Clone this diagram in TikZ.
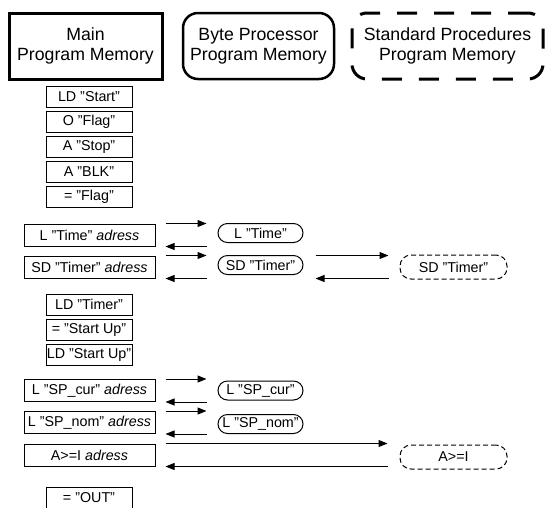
\documentclass[tikz,border=0pt]{standalone}
\usepackage{fontspec}
\setmainfont{Liberation Sans}[Ligatures=ResetAll]
\usetikzlibrary{arrows.meta}

\begin{document}
\begin{tikzpicture}[x=1pt, y=-1pt, font=\fontsize{14.3pt}{17pt}\selectfont,
	memhead/.style={draw, minimum width=#1, minimum height=66pt, inner sep=0pt, align=center, font=\fontsize{17.7pt}{20pt}\selectfont},
	instr/.style={draw, line width=1pt, minimum width=86pt, minimum height=21pt, inner sep=0pt},
	adr/.style={draw, line width=1pt, minimum width=131pt, minimum height=22pt, inner sep=0pt},
	byteop/.style={draw, line width=1pt, rounded corners=9.5pt, minimum width=85pt, minimum height=19pt, inner sep=0pt},
	procop/.style={draw, line width=1pt, dash pattern=on 5pt off 3pt, rounded corners=11pt, minimum width=107pt, minimum height=24pt, inner sep=0pt},
	flow/.style={line width=1pt, -{Triangle[length=9pt,width=7pt]}}]
	\useasboundingbox (0,0) rectangle (546,507);
	% memory headers
	\node[memhead=153pt, line width=3pt] (main) at (85.5,46) {Main\\Program Memory};
	\node[memhead=151pt, line width=2.5pt, rounded corners=15pt] (byte) at (258.5,46) {Byte Processor\\Program Memory};
	\node[memhead=191pt, line width=3pt, rounded corners=15pt, dash pattern=on 20pt off 17pt] (std) at (447.5,46) {Standard Procedures\\Program Memory};
	% main program
	\node[instr] (ld1) at (89,96.5) {LD "Start"};
	\node[instr] (o1) at (89,121.5) {O "Flag"};
	\node[instr] (a1) at (89,146.5) {A "Stop"};
	\node[instr] (a2) at (89,171.5) {A "BLK"};
	\node[instr] (eq1) at (89,196.5) {= "Flag"};
	\node[adr] (lt) at (89.5,235) {L "Time" \textit{adress}};
	\node[adr] (sd) at (89.5,267) {SD "Timer" \textit{adress}};
	\node[instr] (ld2) at (89,304.5) {LD "Timer"};
	\node[instr] (eq2) at (89,329.5) {= "Start Up"};
	\node[instr] (ld3) at (89,354.5) {LD "Start Up"};
	\node[adr] (lc) at (89.5,390.5) {L "SP\_cur" \textit{adress}};
	\node[adr] (ln) at (89.5,422.5) {L "SP\_nom" \textit{adress}};
	\node[adr] (cmp) at (89.5,455) {A>=I \textit{adress}};
	\node[instr] (eq3) at (89,498) {= "OUT"};
	% byte processor and standard procedures
	\node[byteop] (ltb) at (260.5,233) {L "Time"};
	\node[byteop] (sdb) at (260.5,265) {SD "Timer"};
	\node[byteop] (lcb) at (260.5,390.5) {L "SP\_cur"};
	\node[byteop] (lnb) at (260.5,424) {L "SP\_nom"};
	\node[procop] (sdp) at (453.5,267) {SD "Timer"};
	\node[procop] (cmpp) at (453.5,457) {A>=I};
	% calls and returns
	\draw[flow] ([xshift=10pt]lt.north east) -- ([xshift=-11pt]lt.north -| ltb.west);
	\draw[flow] ([xshift=-11pt]lt.south -| ltb.west) -- ([xshift=10pt]lt.south east);
	\draw[flow] ([xshift=10pt]sd.north east) -- ([xshift=-11pt]sd.north -| sdb.west);
	\draw[flow] ([xshift=-11pt]sd.south -| sdb.west) -- ([xshift=10pt]sd.south east);
	\draw[flow] ([xshift=12pt]sd.north -| sdb.east) -- ([xshift=-11pt]sd.north -| sdp.west);
	\draw[flow] ([xshift=-11pt]sd.south -| sdp.west) -- ([xshift=12pt]sd.south -| sdb.east);
	\draw[flow] ([xshift=10pt]lc.north east) -- ([xshift=-11pt]lc.north -| lcb.west);
	\draw[flow] ([xshift=-11pt]lc.south -| lcb.west) -- ([xshift=10pt]lc.south east);
	\draw[flow] ([xshift=10pt]ln.north east) -- ([xshift=-11pt]ln.north -| lnb.west);
	\draw[flow] ([xshift=-11pt]ln.south -| lnb.west) -- ([xshift=10pt]ln.south east);
	\draw[flow] ([xshift=10pt]cmp.north east) -- ([xshift=-12pt]cmp.north -| cmpp.west);
	\draw[flow] ([xshift=-12pt]cmp.south -| cmpp.west) -- ([xshift=10pt]cmp.south east);
\end{tikzpicture}
\end{document}
